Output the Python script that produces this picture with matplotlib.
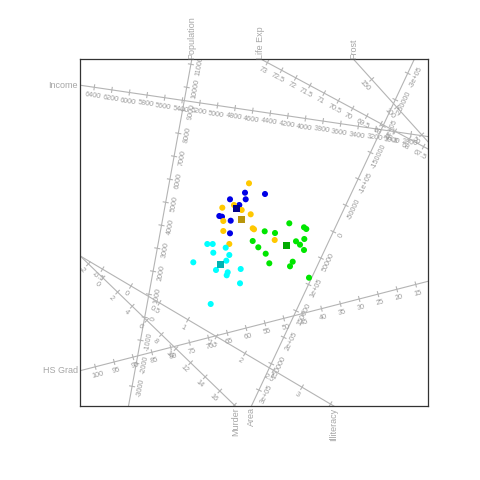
import numpy as np
import matplotlib
matplotlib.use("Agg")
from matplotlib import pyplot as plt

plt.rcParams['font.family'] = ['Liberation Sans', 'DejaVu Sans']

# plot frame in biplot units (x: 0..348, y: 0..347)
xmax, ymax = 348, 347

# state scores by cluster
blue_x = [165, 185, 150, 165.7, 159.3, 139.3, 142, 150.7, 150]
blue_y = [213.3, 212, 206.7, 206.7, 201, 190, 189.3, 185.3, 172.7]
gold_x = [169, 142.3, 154, 161.7, 170.7, 143.3, 172.7, 174, 143.3, 194.7, 149.3]
gold_y = [222.7, 198.3, 201, 196, 191.7, 185, 177.7, 176.7, 175, 166, 162]
cyan_x = [127.3, 132.7, 145.7, 133.3, 149.3, 113.3, 146.3, 136, 147.7, 146.7, 160.7, 160, 130.7]
cyan_y = [162, 162, 158.3, 153.3, 151, 143.7, 145.3, 136, 133.7, 130.7, 137, 122.7, 102]
green_x = [209.3, 224, 226.3, 184.7, 195, 172.7, 178.3, 216, 224.3, 220, 224, 185.7, 212.7, 210, 189.3, 229]
green_y = [182.7, 178.7, 177, 174.7, 173, 165, 158.7, 164.7, 167, 161.3, 156, 152.3, 144.3, 139.7, 142.7, 128.3]

clusters = [
    (blue_x, blue_y, '#0000E6', '#00008B'),
    (gold_x, gold_y, '#FFC800', '#B8960B'),
    (cyan_x, cyan_y, '#00FFFF', '#00B2B2'),
    (green_x, green_y, '#00E600', '#00AA00'),
]

# calibrated variable axes: two reference values and where they sit
names = ["Population", "Income", "Life Exp", "Frost", "Area", "Illiteracy", "Murder", "HS Grad"]
ref_a = [(0, 64.7, 88.7), (5400, 102.3, 305.7), (73, 187.4, 343.4), (150, 291.7, 326.6),
         (0, 253.3, 174.3), (0, 51, 120), (0, 23, 128), (100, 15.3, 39.2)]
ref_b = [(10000, 106.7, 318.7), (3400, 278.3, 279.7), (68, 329.4, 267), (100, 316.7, 298.9),
         (300000, 178.9, 15.9), (3, 222, 18.8), (16, 139.8, 15), (20, 316.9, 116.7)]
label_side = [-1, 1, 1, 1, 1, -1, -1, 1]

pop_ticks = list(range(-3000, 12000, 1000))
inc_ticks = list(range(2600, 6800, 200))
life_ticks = [67.5, 68, 68.5, 69, 69.5, 70, 70.5, 71, 71.5, 72, 72.5, 73]
frost_ticks = [0, 50, 100, 150]
area_ticks = [-300000, -250000, -200000, -150000, -100000, -50000, 0,
              50000, 100000, 150000, 200000, 250000, 300000]
area_labels = ["-3e+05", "-250000", "-2e+05", "-150000", "-1e+05", "-50000", "0",
               "50000", "1e+05", "150000", "2e+05", "250000", "3e+05"]
illit_ticks = [-1, -0.5, 0, 0.5, 1, 1.5, 2, 2.5, 3, 3.5]
murder_ticks = list(range(-4, 20, 2))
hs_ticks = list(range(10, 105, 5))

ticks = [pop_ticks, inc_ticks, life_ticks, frost_ticks, area_ticks, illit_ticks, murder_ticks, hs_ticks]
tick_labels = [None, None, None, None, area_labels, None, None, None]

line_col = '#B4B4B4'
text_col = '#9A9A9A'
name_col = '#A6A6A6'

fig = plt.figure(figsize=(4.8, 4.8), dpi=100)
ax = fig.add_axes([80 / 480, 74 / 480, 348 / 480, 347 / 480])
ax.set_xlim(0, xmax)
ax.set_ylim(0, ymax)
ax.set_xticks([])
ax.set_yticks([])
for s in ax.spines.values():
    s.set_color('#333333')
    s.set_linewidth(0.9)


def fmt(v):
    if float(v).is_integer():
        return str(int(v))
    return f"{v:g}"


def inside(p):
    return -0.5 <= p[0] <= xmax + 0.5 and -0.5 <= p[1] <= ymax + 0.5


for i in range(len(names)):
    va_, xa, ya = ref_a[i]
    vb, xb, yb = ref_b[i]
    pa = np.array([xa, ya])
    unit = (np.array([xb, yb]) - pa) / (vb - va_)   # step per unit value
    d = unit / np.linalg.norm(unit)
    n = np.array([-d[1], d[0]]) * label_side[i]
    n_tick = np.array([-d[1], d[0]])

    # long line, clipped by the axes
    p1 = pa - d * 1000
    p2 = pa + d * 1000
    ax.plot([p1[0], p2[0]], [p1[1], p2[1]], color=line_col, lw=0.8, zorder=1)

    ang = np.degrees(np.arctan2(d[1], d[0]))
    if ang > 90:
        ang -= 180
    if ang <= -90:
        ang += 180

    for j, v in enumerate(ticks[i]):
        p = pa + unit * (v - va_)
        if not inside(p):
            continue
        t1 = p + n_tick * 2.5
        t2 = p - n_tick * 2.5
        ax.plot([t1[0], t2[0]], [t1[1], t2[1]], color=line_col, lw=0.8, zorder=1)
        lab = tick_labels[i][j] if tick_labels[i] else fmt(v)
        q = p + n * 9
        ax.text(q[0], q[1], lab, rotation=ang, rotation_mode='anchor', ha='center', va='center',
                fontsize=5.2, color=text_col, clip_on=True, zorder=1)

    # variable name where the axis leaves the frame on the high-value side
    ts = []
    if d[0] > 0:
        ts.append(((xmax - pa[0]) / d[0], 'right'))
    if d[0] < 0:
        ts.append(((0 - pa[0]) / d[0], 'left'))
    if d[1] > 0:
        ts.append(((ymax - pa[1]) / d[1], 'top'))
    if d[1] < 0:
        ts.append(((0 - pa[1]) / d[1], 'bottom'))
    t, edge = min(ts)
    e = pa + d * t
    if edge == 'top':
        ax.text(e[0], ymax + 0.5, names[i], rotation=90, ha='center', va='bottom',
                fontsize=6.5, color=name_col, clip_on=False)
    elif edge == 'bottom':
        ax.text(e[0], -1.5, names[i], rotation=90, ha='center', va='top',
                fontsize=6.5, color=name_col, clip_on=False)
    elif edge == 'left':
        ax.text(-2, e[1], names[i], ha='right', va='center',
                fontsize=6.5, color=name_col, clip_on=False)
    else:
        ax.text(xmax + 2, e[1], names[i], ha='left', va='center',
                fontsize=6.5, color=name_col, clip_on=False)

for xs, ys, c, cc in clusters:
    ax.scatter(xs, ys, s=19, color=c, edgecolors='none', zorder=3)
for xs, ys, c, cc in clusters:
    ax.scatter([np.mean(xs)], [np.mean(ys)], s=26, marker='s', color=cc, edgecolors='none', zorder=4)

fig.savefig('out.png', dpi=100)
